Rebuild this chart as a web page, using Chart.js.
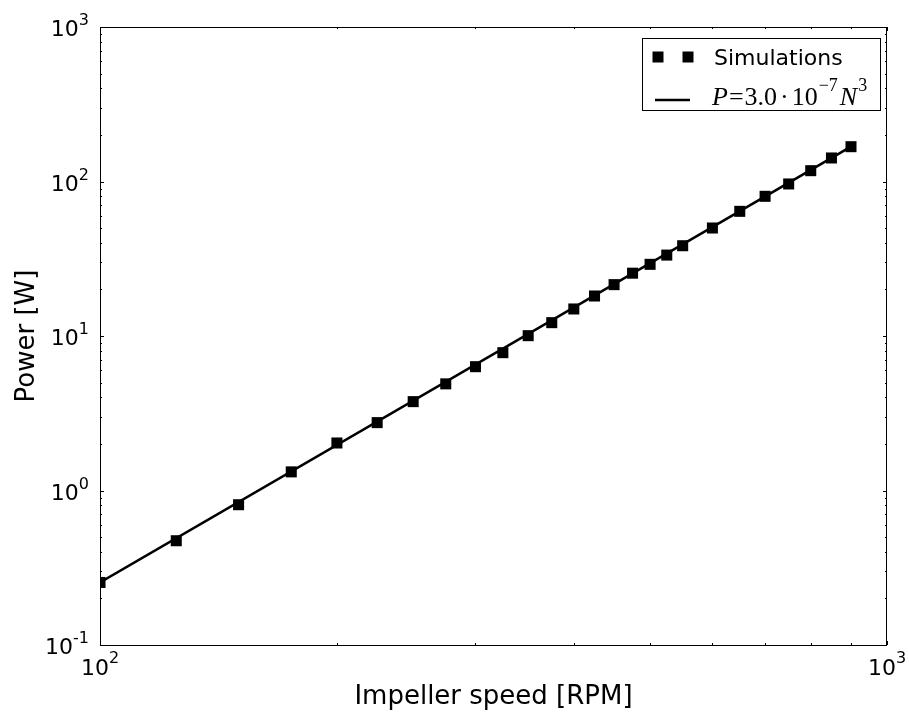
<!DOCTYPE html>
<html><head><meta charset="utf-8">
<script src="https://cdn.jsdelivr.net/npm/chart.js@4/dist/chart.umd.min.js"></script>
<style>html,body{margin:0;padding:0;background:#fff}#wrap{width:909px;height:715px;position:relative}</style>
</head><body><div id="wrap"><canvas id="c" width="909" height="715"></canvas></div>
<script>
// ---- data ----
const speeds = [100,125,150,175,200,225,250,275,300,325,350,375,400,425,450,475,500,525,550,600,650,700,750,800,850,900];
const power  = [0.254,0.473,0.809,1.32,2.03,2.75,3.76,4.9,6.33,7.80,10.05,12.2,14.96,18.15,21.5,25.5,29.1,33.4,38.4,50.0,64.1,80.2,96.4,117.5,142,168];
const fitSpeeds = [100, 900];
const fitPower  = [0.254, 168];
const xTickValues = [100, 1000];
const yTickValues = [0.1, 1, 10, 100, 1000];
const xTitle = 'Impeller speed [RPM]';
const yTitle = 'Power [W]';
const legendSim = 'Simulations';
// fit label pieces: P = 3.0 · 10^-7 N^3
const fitLabel = [
  { t: 'P', italic: true, gap: 1 },
  { t: '=', gap: 1 },
  { t: '3.0', gap: 3 },
  { t: '\u00B7', gap: 3 },
  { t: '10', gap: 1 },
  { t: '\u22127', sup: true, gap: 2 },
  { t: 'N', italic: true, gap: 1 },
  { t: '3', sup: true, gap: 0 }
];

function toPoints(xs, ys){ return xs.map((x,i)=>({x:x, y:ys[i]})); }
function expOf(v){ const e = Math.round(Math.log10(v)); return e < 0 ? '-' + (-e) : String(e); }

const SANS = '"DejaVu Sans", sans-serif';
const SERIF = '"Liberation Serif", "DejaVu Serif", serif';

function drawPow(ctx, exp, x, baseY, align, supDy){
  ctx.font = '22px ' + SANS;
  const wb = ctx.measureText('10').width;
  ctx.font = '16px ' + SANS;
  const we = ctx.measureText(exp).width;
  const start = align === 'right' ? x - wb - we : x - (wb + we) / 2;
  ctx.textAlign = 'left'; ctx.textBaseline = 'alphabetic'; ctx.fillStyle = '#000';
  ctx.font = '22px ' + SANS; ctx.fillText('10', start, baseY);
  ctx.font = '16px ' + SANS; ctx.fillText(exp, start + wb, baseY - supDy);
}

const axesPlugin = {
  id: 'mplAxes',
  afterDatasetsDraw(chart){
    const ctx = chart.ctx, a = chart.chartArea, xs = chart.scales.x, ys = chart.scales.y;
    const L = Math.round(a.left), R = Math.round(a.right), T = Math.round(a.top), B = Math.round(a.bottom);
    ctx.save();
    ctx.strokeStyle = '#000'; ctx.lineWidth = 1;
    ctx.strokeRect(L + 0.5, T + 0.5, R - L - 1, B - T);
    ctx.beginPath();
    const xMin = [];
    for (let d = 100; d < 1000; d *= 10) for (let m = 2; m <= 9; m++) xMin.push(m * d);
    const tx = (v, len) => { const p = Math.round(xs.getPixelForValue(v)) + 0.5;
      ctx.moveTo(p, B); ctx.lineTo(p, B - len); ctx.moveTo(p, T); ctx.lineTo(p, T + len); };
    xTickValues.forEach(v => tx(v, 4)); xMin.forEach(v => tx(v, 2));
    const yMin = [];
    for (let e = -1; e < 3; e++) for (let m = 2; m <= 9; m++) yMin.push(m * Math.pow(10, e));
    const ty = (v, len) => { const p = Math.round(ys.getPixelForValue(v)) + 0.5;
      ctx.moveTo(L, p); ctx.lineTo(L + len, p); ctx.moveTo(R, p); ctx.lineTo(R - len, p); };
    yTickValues.forEach(v => ty(v, 4)); yMin.forEach(v => ty(v, 2));
    ctx.stroke();
    xTickValues.forEach(v => drawPow(ctx, expOf(v), xs.getPixelForValue(v), B + 30, 'center', 12));
    yTickValues.forEach(v => drawPow(ctx, expOf(v), 89, ys.getPixelForValue(v) + 9, 'right', 11));
    ctx.restore();
  },
  afterDraw(chart){
    const ctx = chart.ctx;
    ctx.save();
    ctx.fillStyle = '#fff';
    ctx.fillRect(642, 38, 239, 73);
    ctx.strokeStyle = '#000'; ctx.lineWidth = 1;
    ctx.strokeRect(642.5, 38.5, 238, 72);
    ctx.fillStyle = '#000';
    ctx.fillRect(652.5, 51.5, 11, 11);
    ctx.fillRect(682.5, 51.5, 11, 11);
    ctx.font = '22px ' + SANS; ctx.textBaseline = 'alphabetic'; ctx.textAlign = 'left';
    ctx.fillText(legendSim, 714, 65);
    ctx.beginPath(); ctx.lineWidth = 2.5; ctx.moveTo(655, 100); ctx.lineTo(690, 100); ctx.stroke();
    const base = 105, supBase = 91;
    let x = 712;
    fitLabel.forEach(p => {
      ctx.font = (p.italic ? 'italic ' : '') + (p.sup ? '18px ' : '26px ') + SERIF;
      ctx.fillText(p.t, x, p.sup ? supBase : base);
      x += ctx.measureText(p.t).width + p.gap;
    });
    ctx.restore();
  }
};

new Chart(document.getElementById('c'), {
  type: 'scatter',
  data: {
    datasets: [
      { label: legendSim, data: toPoints(speeds, power), pointStyle: 'rect', pointRadius: 7.8,
        backgroundColor: '#000', borderColor: '#000', borderWidth: 0, showLine: false, clip: 0, order: 1 },
      { label: 'fit', data: toPoints(fitSpeeds, fitPower), showLine: true, pointRadius: 0,
        borderColor: '#000', borderWidth: 2.6, fill: false, clip: 0, order: 0 }
    ]
  },
  options: {
    responsive: false, animation: false, events: [],
    devicePixelRatio: 1,
    layout: { padding: { left: 0, right: 22, top: 27, bottom: 0 } },
    plugins: { legend: { display: false }, tooltip: { enabled: false } },
    scales: {
      x: { type: 'logarithmic', min: 100, max: 1000,
        grid: { display: false, drawTicks: false }, border: { display: false },
        ticks: { display: false },
        title: { display: true, text: xTitle, color: '#000', font: { family: 'DejaVu Sans', size: 26 },
          padding: { top: 36.4, bottom: 2.4 } } },
      y: { type: 'logarithmic', min: 0.1, max: 1000,
        grid: { display: false, drawTicks: false }, border: { display: false },
        ticks: { display: false },
        title: { display: true, text: yTitle, color: '#000', font: { family: 'DejaVu Sans', size: 26 },
          padding: { top: 11.4, bottom: 57.4 } } }
    }
  },
  plugins: [axesPlugin]
});
</script></body></html>
